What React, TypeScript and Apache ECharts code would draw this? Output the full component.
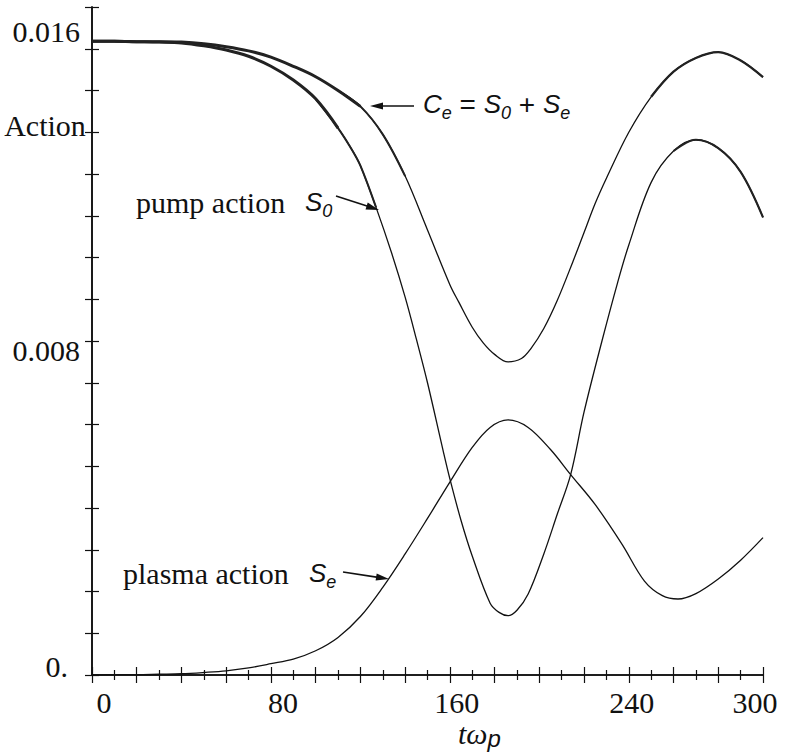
import React, { useEffect, useRef } from "react";
import * as echarts from "echarts";

const SERIF = "'Liberation Serif', 'Times New Roman', serif";
const SANS = "'Liberation Sans', Arial, sans-serif";

// Tick labels shown on the frame
const X_TICK_LABELS = [0, 80, 160, 240, 300];
const Y_TICK_LABELS = [0, 0.008, 0.016];

// C_e = S_0 + S_e  (total action)
const T_CE = [0, 10, 20, 30, 40, 50, 60, 70, 80, 90, 100, 110, 120, 130, 140, 150, 160, 164, 170, 175, 180, 186, 192, 196, 202, 208, 215, 220, 225, 230, 240, 250, 260, 270, 280, 290, 300];
const CE = [0.01518, 0.01518, 0.01517, 0.01517, 0.01516, 0.01512, 0.01505, 0.01495, 0.0148, 0.01458, 0.01433, 0.014, 0.01362, 0.01295, 0.01195, 0.01066, 0.00935, 0.00893, 0.00833, 0.00795, 0.00768, 0.0075, 0.00758, 0.0078, 0.0083, 0.00897, 0.0099, 0.0106, 0.0113, 0.0119, 0.013, 0.01385, 0.01445, 0.01478, 0.01492, 0.01472, 0.01432];

// pump action S_0
const T_S0 = [0, 10, 20, 30, 40, 50, 60, 70, 80, 90, 100, 110, 116, 120, 127, 134, 140, 145, 150, 157, 160, 165, 170, 178, 182, 186, 190, 195, 202, 208, 214, 220, 228, 235, 240, 250, 260, 270, 280, 290, 300];
const S0 = [0.01518, 0.01518, 0.01517, 0.01516, 0.01514, 0.01507, 0.01497, 0.01482, 0.01458, 0.01425, 0.0138, 0.0131, 0.0126, 0.0122, 0.0112, 0.0101, 0.00905, 0.00805, 0.007, 0.00537, 0.0047, 0.0037, 0.00285, 0.00172, 0.0015, 0.00142, 0.00155, 0.00194, 0.0029, 0.00385, 0.0048, 0.0063, 0.008, 0.0094, 0.0103, 0.0118, 0.01255, 0.01282, 0.01262, 0.01205, 0.01096];

// plasma action S_e
const T_SE = [0, 10, 20, 30, 40, 50, 60, 70, 80, 90, 100, 110, 120, 130, 140, 150, 160, 170, 178, 186, 195, 205, 214, 225, 237, 247, 255, 262, 270, 280, 290, 300];
const SE = [0.0, 0.00001, 0.00001, 0.00002, 0.00003, 0.00006, 0.0001, 0.00017, 0.00027, 0.00038, 0.00058, 0.0009, 0.0014, 0.0021, 0.0029, 0.00375, 0.00462, 0.00545, 0.00593, 0.00611, 0.00593, 0.0054, 0.0048, 0.00408, 0.00313, 0.00225, 0.0019, 0.00182, 0.00195, 0.0023, 0.00275, 0.00329];

function pairs(ts: number[], vs: number[], lo = -Infinity, hi = Infinity) {
  const out: number[][] = [];
  ts.forEach((t, i) => {
    if (t >= lo && t <= hi) out.push([t, vs[i]]);
  });
  return out;
}

function curve(data: number[][], width: number, color = "#111", z = 2) {
  return {
    type: "line",
    data,
    showSymbol: false,
    symbol: "none",
    smooth: 0.35,
    z,
    lineStyle: { color, width },
    emphasis: { disabled: true },
  };
}

function arrow(x1: number, y1: number, x2: number, y2: number) {
  const len = 13;
  const half = 3.6;
  const dx = x2 - x1;
  const dy = y2 - y1;
  const d = Math.hypot(dx, dy);
  const ux = dx / d;
  const uy = dy / d;
  const bx = x2 - ux * len;
  const by = y2 - uy * len;
  return [
    {
      type: "line",
      shape: { x1, y1, x2: bx + ux * 2, y2: by + uy * 2 },
      style: { stroke: "#111", lineWidth: 1.6 },
    },
    {
      type: "polygon",
      shape: {
        points: [
          [x2, y2],
          [bx - uy * half, by + ux * half],
          [bx + uy * half, by - ux * half],
        ],
      },
      style: { fill: "#111" },
    },
  ];
}

const tickLabelStyle = { fontFamily: SERIF, fontSize: 30, color: "#111" };

export default function App() {
  const ref = useRef<HTMLDivElement>(null);

  useEffect(() => {
    const chart = echarts.init(ref.current!, null, { renderer: "svg" });

    const frameLine = { show: true, lineStyle: { color: "#111", width: 1.6 } };

    const xLabelRich: Record<string, any> = {
      x0: { ...tickLabelStyle, padding: [0, 0, 0, 24] },
      x1: { ...tickLabelStyle, padding: [0, 0, 0, 24] },
      x2: { ...tickLabelStyle, padding: [0, 0, 0, 14] },
      x3: { ...tickLabelStyle, padding: [0, 0, 0, 6] },
      x4: { ...tickLabelStyle, padding: [0, 16, 0, 0] },
    };
    const yLabelRich: Record<string, any> = {
      y0: { ...tickLabelStyle, padding: [0, 12, 18, 0] },
      y1: { ...tickLabelStyle, padding: [18, 0, 0, 0] },
      y2: { ...tickLabelStyle, padding: [48, 0, 0, 0] },
    };

    const subSans = { fontFamily: SANS, fontStyle: "italic", fontSize: 18, fill: "#111", verticalAlign: "bottom" };
    const mainSans = { fontFamily: SANS, fontStyle: "italic", fontSize: 26, fill: "#111", lineHeight: 36 };
    const plainSans = { fontFamily: SANS, fontSize: 28, fill: "#111", lineHeight: 36 };

    const tickStyle = { color: "#111", width: 1.2 };

    chart.setOption({
      animation: false,
      backgroundColor: "#fff",
      grid: { left: 92, top: 7, right: 23, bottom: 79 },
      xAxis: [
        {
          type: "value",
          min: 0,
          max: 300,
          interval: 20,
          axisLine: frameLine,
          axisTick: { show: true, inside: true, length: 8, lineStyle: tickStyle },
          minorTick: { show: true, splitNumber: 2, length: 5, lineStyle: tickStyle },
          splitLine: { show: false },
          axisLabel: {
            margin: 12,
            showMinLabel: true,
            showMaxLabel: true,
            formatter: (v: number) => {
              const i = X_TICK_LABELS.indexOf(v);
              return i < 0 ? "" : `{x${i}|${v}}`;
            },
            rich: xLabelRich,
          },
        },
        {
          type: "value",
          position: "top",
          min: 0,
          max: 300,
          interval: 20,
          axisLine: frameLine,
          axisTick: { show: true, inside: true, length: 8, lineStyle: tickStyle },
          minorTick: { show: true, splitNumber: 2, length: 5, lineStyle: tickStyle },
          splitLine: { show: false },
          axisLabel: { show: false },
        },
      ],
      yAxis: [
        {
          type: "value",
          min: 0,
          max: 0.016,
          interval: 0.001,
          axisLine: frameLine,
          axisTick: { show: true, inside: true, length: 7, lineStyle: tickStyle },
          splitLine: { show: false },
          axisLabel: {
            margin: 12,
            showMinLabel: true,
            showMaxLabel: true,
            formatter: (v: number) => {
              const i = Y_TICK_LABELS.findIndex((l) => Math.abs(l - v) < 1e-9);
              if (i < 0) return "";
              const text = i === 0 ? "0." : Y_TICK_LABELS[i].toFixed(3);
              return `{y${i}|${text}}`;
            },
            rich: yLabelRich,
          },
        },
        {
          type: "value",
          position: "right",
          min: 0,
          max: 0.016,
          interval: 0.001,
          axisLine: frameLine,
          axisTick: { show: true, inside: true, length: 7, lineStyle: tickStyle },
          splitLine: { show: false },
          axisLabel: { show: false },
        },
      ],
      series: [
        // fast oscillation makes the early and late stretches look thicker
        curve(pairs(T_CE, CE), 1.3),
        curve(pairs(T_CE, CE, 0, 120), 3.0, "#222", 3),
        curve(pairs(T_CE, CE, 110, 140), 2.0, "#222", 3),
        curve(pairs(T_CE, CE, 245, 300), 2.3, "#222", 3),
        curve(pairs(T_S0, S0), 1.3),
        curve(pairs(T_S0, S0, 0, 110), 3.0, "#222", 3),
        curve(pairs(T_S0, S0, 100, 127), 2.0, "#222", 3),
        curve(pairs(T_S0, S0, 255, 300), 2.1, "#222", 3),
        curve(pairs(T_SE, SE), 1.3),
      ],
      graphic: [
        {
          type: "text",
          x: 45,
          y: 125,
          style: { text: "Action", font: `30px ${SERIF}`, fill: "#111", textAlign: "center", textVerticalAlign: "middle" },
        },
        {
          type: "text",
          x: 458,
          y: 733,
          style: {
            text: "{t|tω}{p|p}",
            textAlign: "left",
            textVerticalAlign: "middle",
            rich: {
              t: { fontFamily: SERIF, fontStyle: "italic", fontSize: 30, fill: "#111", lineHeight: 34 },
              p: { fontFamily: SANS, fontStyle: "italic", fontSize: 24, fill: "#111", verticalAlign: "bottom" },
            },
          },
        },
        {
          type: "text",
          x: 423,
          y: 104,
          style: {
            text: "{i|C}{s|e}{n| = }{i|S}{s|0}{n| + }{i|S}{s|e}",
            textAlign: "left",
            textVerticalAlign: "middle",
            rich: { i: mainSans, s: subSans, n: plainSans },
          },
        },
        ...arrow(414, 106, 370, 106),
        {
          type: "text",
          x: 136,
          y: 202,
          style: { text: "pump action", font: `30px ${SERIF}`, fill: "#111", textAlign: "left", textVerticalAlign: "middle" },
        },
        {
          type: "text",
          x: 305,
          y: 202,
          style: {
            text: "{i|S}{s|0}",
            textAlign: "left",
            textVerticalAlign: "middle",
            rich: { i: mainSans, s: subSans },
          },
        },
        ...arrow(336, 196, 379, 210),
        {
          type: "text",
          x: 123,
          y: 573,
          style: { text: "plasma action", font: `30px ${SERIF}`, fill: "#111", textAlign: "left", textVerticalAlign: "middle" },
        },
        {
          type: "text",
          x: 309,
          y: 573,
          style: {
            text: "{i|S}{s|e}",
            textAlign: "left",
            textVerticalAlign: "middle",
            rich: { i: mainSans, s: subSans },
          },
        },
        ...arrow(343, 572, 389, 579),
      ],
    });

    return () => chart.dispose();
  }, []);

  return <div ref={ref} style={{ position: "fixed", left: 0, top: 0, width: 786, height: 754 }} />;
}
